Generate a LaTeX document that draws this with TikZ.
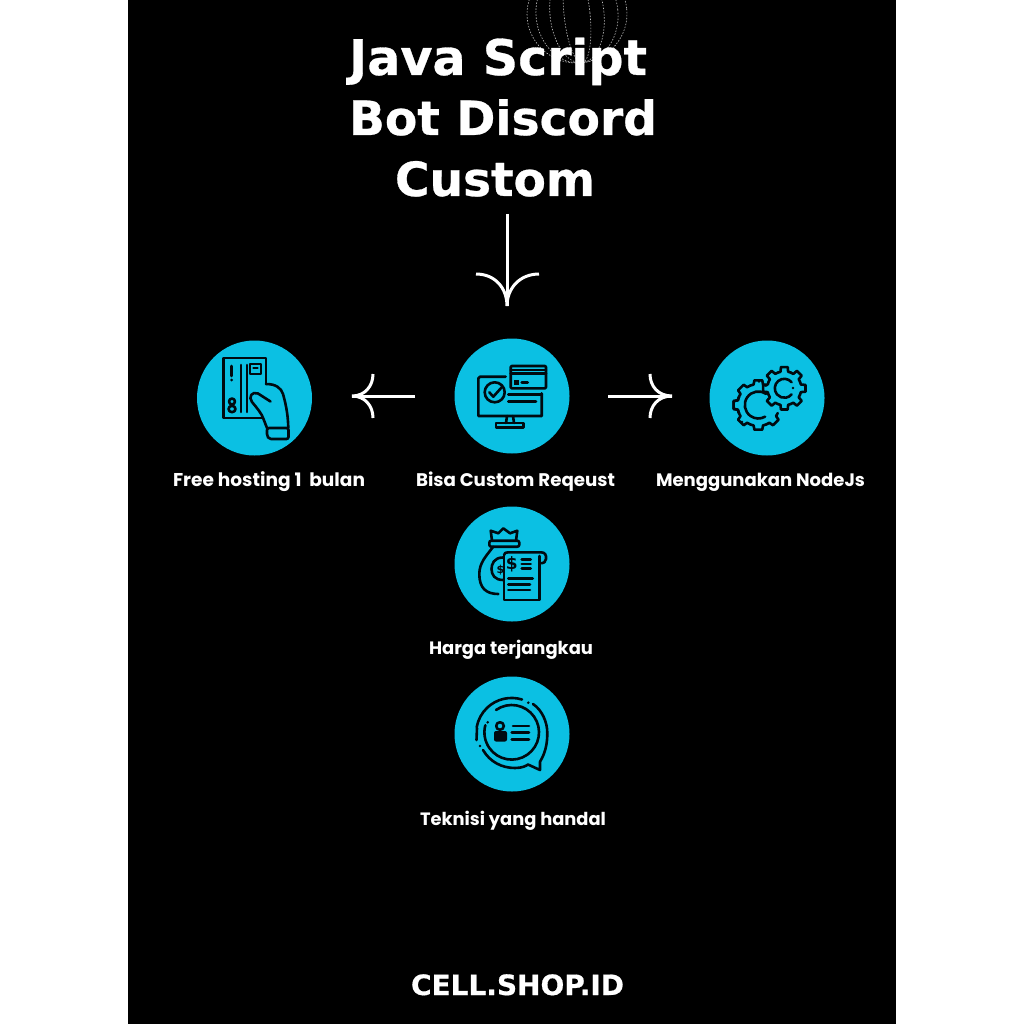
\documentclass[tikz,border=0pt]{standalone}
\usepackage{fontspec}
\newfontfamily\titlefont{DejaVu Sans}[UprightFont=* Bold,FakeBold=0.6]
\newfontfamily\dollarfont{DejaVu Sans}[UprightFont=* Bold]
\newfontfamily\labelfont{Poppins}[UprightFont=*-Bold]
\definecolor{cyanbg}{HTML}{0BC0E3}
\definecolor{icon}{HTML}{000A10}
\tikzset{
 disc/.style={circle,fill=cyanbg,minimum size=115pt,inner sep=0pt},
 titletext/.style={text=white,font=\titlefont\fontsize{51}{51}\selectfont,anchor=base,inner sep=0pt},
 labeltext/.style={text=white,font=\labelfont\fontsize{17}{17}\selectfont,anchor=base,inner sep=0pt},
 ic/.style={draw=icon,line width=2.6pt,line join=round,line cap=round},
 arrowline/.style={draw=white,line width=3pt,line join=bevel},
 globe/.style={draw=white!75!black,line width=.6pt,dash pattern=on 1.5pt off 1.5pt},
}
\newcommand{\gearteeth}[5]{% cx cy rout rin list
 \begin{scope}[shift={(#1,#2)}]
 \foreach \a in {#5}{
  \draw[ic] (\a-22.5:#4) -- (\a-13:#4) -- (\a-9:#3) -- (\a+9:#3) -- (\a+13:#4) -- (\a+22.5:#4);
 }
 \end{scope}}
\newcommand{\wtitle}[2]{\resizebox{#1pt}{!}{#2}}
\begin{document}
\begin{tikzpicture}[x=1pt,y=1pt,yscale=-1]
\useasboundingbox (0,0) rectangle (1024,1024);
\fill[white] (0,0) rectangle (1024,1024);
\fill[black] (128,0) rectangle (896,1024);
% globe
\begin{scope}
\clip (128,0) rectangle (896,64);
\foreach \r in {50,41,27,13}{\draw[globe,rotate around={-6:(577,14)}] (577,14) ellipse ({\r} and 49);}
\end{scope}
% title
\node[titletext] (t1) at (498,75) {\wtitle{298}{Java Script}};
\node[titletext] (t2) at (503,135) {\wtitle{308}{Bot Discord}};
\node[titletext] (t3) at (495,196) {\wtitle{200}{Custom}};
% discs
\node[disc] (card) at (254.5,398) {};
\node[disc] (mon) at (512,396) {};
\node[disc] (gear) at (767,398) {};
\node[disc] (money) at (512,564) {};
\node[disc] (chat) at (512,734) {};
% labels
\node[labeltext] (l1) at (269,486.5) {\resizebox{192pt}{!}{Free hosting 1\ \ bulan}};
\node[labeltext] (l2) at (515.5,486.5) {\resizebox{199pt}{!}{Bisa Custom Reqeust}};
\node[labeltext] (l3) at (760.5,486.5) {\resizebox{209pt}{!}{Menggunakan NodeJs}};
\node[labeltext] (l4) at (511,654.5) {\resizebox{164pt}{!}{Harga terjangkau}};
\node[labeltext] (l5) at (513,825.5) {\resizebox{186pt}{!}{Teknisi yang handal}};
\node[text=white,font=\titlefont\fontsize{28}{28}\selectfont,anchor=base,inner sep=0pt] (foot) at (517.5,995) {\resizebox{213pt}{!}{CELL.SHOP.ID}};
% arrows
\coordinate (dS) at (507,214); \coordinate (dT) at (507,306);
\coordinate (lS) at (415,396); \coordinate (lT) at (352,396);
\coordinate (rS) at (608,396); \coordinate (rT) at (672,396);
\draw[arrowline] (dS) -- (dT);
\draw[arrowline] (476,274) .. controls (495,274) and (507,288) .. (dT) .. controls (507,288) and (520,274) .. (539,274);
\draw[arrowline] (lS) -- (lT);
\draw[arrowline] (373,374) .. controls (373,386) and (365,396) .. (lT) .. controls (365,396) and (373,406) .. (373,418);
\draw[arrowline] (rS) -- (rT);
\draw[arrowline] (650,374) .. controls (650,386) and (658,396) .. (rT) .. controls (658,396) and (650,406) .. (650,418);
% card icon
\draw[ic] (266,384) -- (266,358) -- (223.5,358) -- (223.5,418) -- (262,418);
\draw[ic] (241,365) -- (241,412) (247,365) -- (247,412);
\draw[ic] (231.5,366) -- (231.5,376);
\fill[icon] (231.5,380) circle (1.5);
\draw[ic] (250,364) rectangle (261,374);
\draw[ic] (253.5,368) -- (257.5,368);
\draw[ic] (232,401.5) circle (3);
\draw[ic] (232,409) ellipse (3.5 and 3.2);
\draw[ic] (266,384) .. controls (276,384) and (281,388) .. (283,394) .. controls (287,408) and (288,418) .. (288.3,428);
\draw[ic] (270.5,401.5) -- (258,393.5) .. controls (252,391) and (248,397) .. (252,402) .. controls (257,408) and (262,414) .. (263.5,419) -- (267,428);
\draw[ic,rounded corners=2pt] (267,428) -- (288.5,428) -- (288.5,439) -- (269,439) -- (267,436) -- cycle;
% monitor icon
\draw[ic] (505.7,376.7) -- (480,376.7) -- (478.3,378.5) -- (478.3,416) -- (541.7,416) -- (541.7,393.3);
\draw[ic] (507,416) -- (506,423) (513,416) -- (514,423);
\draw[ic] (496,423) rectangle (523.3,427.3);
\draw[ic] (494.7,392.3) circle (10);
\draw[ic] (489.3,392.3) -- (493.3,396.7) -- (501.7,387.3);
\draw[ic] (508.3,394.3) -- (541.7,394.3) (508.3,401.7) -- (536,401.7);
\draw[ic,rounded corners=1pt] (510.7,366) rectangle (546,388.3);
\draw[ic] (510.7,370) -- (546,370) (510.7,373.5) -- (546,373.5);
\fill[icon] (514.3,380) rectangle (519,385);
\draw[ic] (521.7,382.7) -- (527.7,382.7);
% gears
\gearteeth{758.3}{405}{25}{21}{-180,-135,-90,90,45,135,180}
\gearteeth{784.3}{388.3}{21.5}{17}{0,45,90,135,180,225,270,315}
\draw[ic] (758.3,405) ++(-55:13.5) arc (-55:-300:13.5);
\draw[ic] (784.3,388.3) ++(-40:9.5) arc (-40:-320:9.5);
\fill[icon] (742,422) circle (1.4) (759,381.5) circle (1.4) (793,388) circle (1.4);
% money icon
\draw[ic] (492,540.7) -- (490.7,530.7) -- (498.3,533.3) -- (503.3,528.3) -- (510,533.3) -- (517.3,530.7) -- (516,540.7);
\draw[ic,rounded corners=2pt] (489.3,540.7) rectangle (519.3,546.7);
\draw[ic] (493.3,546.7) .. controls (486,556) and (479.3,563) .. (479.3,574) .. controls (479.3,588) and (486,594) .. (498.3,594);
\draw[ic] (503,557.5) .. controls (494,557.5) and (491.5,564) .. (491.5,569) .. controls (491.5,575) and (495,580) .. (503,580);
\node[text=icon,font=\dollarfont\fontsize{11}{11}\selectfont,inner sep=0pt] (d1) at (500.5,570) {\$};
\node[text=icon,font=\dollarfont\fontsize{17}{17}\selectfont,inner sep=0pt] (d2) at (511.7,564) {\$};
\draw[ic] (504,555) -- (504,600) -- (539.3,600) -- (539.3,556);
\draw[ic] (504,555) .. controls (504,553) and (506,552.3) .. (508.3,552.3) -- (541,552.3) .. controls (545,552.3) and (546.5,555) .. (546,559) .. controls (546,562) and (544,563.3) .. (539.3,563.3);
\draw[ic] (521.7,559.3) -- (530.7,559.3) (521.7,564) -- (530.7,564) (521.7,568.3) -- (530.7,568.3);
\draw[ic] (508.3,578.7) -- (532.7,578.7) (508.3,584.7) -- (530,584.7) (508.3,590) -- (530,590);
% chat icon
\draw[ic] (511.7,732.3) ++(-125:27.3) arc (-125:195:27.3);
\draw[ic] (522,699.5) arc (-73:-170:35.5);
\draw[ic] (477,728) -- (476.5,740);
\draw[ic] (483,750) .. controls (490,762) and (502,768) .. (515,768) .. controls (522,768) and (526,766) .. (528,764.5) -- (540,770) -- (540,761.7) .. controls (546,752) and (547.3,742) .. (547.3,733) .. controls (547.3,722) and (542,710) .. (533,704);
\fill[icon] (528.3,702.7) circle (1.4) (487.7,722.3) circle (1.4) (480,746) circle (1.4);
\draw[ic] (500,726) circle (3.8);
\fill[icon,rounded corners=2pt] (494,741.5) rectangle (507,731);
\draw[ic] (513,726) -- (529,726) (511.7,732.5) -- (529,732.5) (511.7,739.3) -- (529,739.3);
\end{tikzpicture}
\end{document}
